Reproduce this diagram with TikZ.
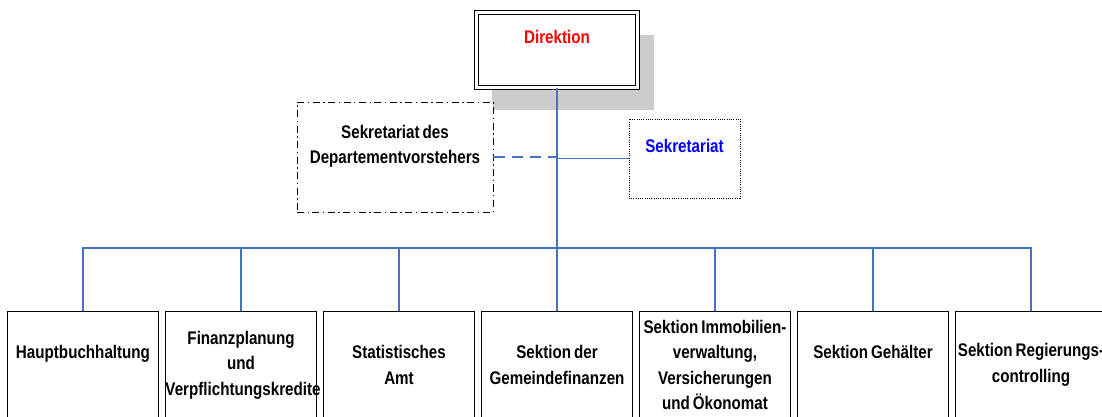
\documentclass[tikz,border=0pt]{standalone}
\usepackage{fontspec}
\setmainfont[FakeStretch=0.83, WordSpace=0.7]{Liberation Sans}
\usepackage{tikz}
\usetikzlibrary{shadows}
\definecolor{orgLine}{RGB}{68,114,196}
\definecolor{orgShade}{RGB}{204,204,204}

\begin{document}
\begin{tikzpicture}[x=0.025cm, y=-0.025cm,
    box/.style={draw, fill=white, line width=0.6pt, align=flush center, inner sep=0pt,
      font=\fontsize{13}{18.1}\selectfont\bfseries},
    headbox/.style={box, double, double distance=2pt, minimum width=4.025cm, minimum height=1.875cm,
      drop shadow={shadow xshift=0.4cm, shadow yshift=-0.55cm, fill=orgShade, opacity=1}},
    dotbox/.style={box, dash pattern=on 0.7pt off 0.9pt},
    dashdotbox/.style={box, dash pattern=on 5pt off 2.5pt on 1pt off 2.5pt},
    unit/.style={box, minimum width=3.775cm, text width=3.775cm, minimum height=2.7cm},
    link/.style={draw=orgLine, line width=1.3pt}
  ]
  \useasboundingbox (0,0) rectangle (1102,416);
  \clip (0,0) rectangle (1102,416);

  % head and staff
  \node[headbox, text=red] (dir) at (557,50) {Direktion\\~};
  \node[dotbox, minimum width=2.775cm, minimum height=1.975cm, text=blue] (sek) at (684.5,158.5) {Sekretariat\\~};
  \node[dashdotbox, minimum width=4.9cm, minimum height=2.75cm] (dep) at (395,157)
    {Sekretariat des\\Departementvorstehers\\~};

  % sections
  \foreach \name [count=\i from 0] in {{Hauptbuchhaltung\\~}, {Finanzplanung\\und\\Verpflichtungskredite},
      {Statistisches\\Amt}, {Sektion der\\Gemeindefinanzen},
      {Sektion Immobilien-\\verwaltung,\\Versicherungen\\und Ökonomat},
      {Sektion Gehälter\\~}, {Sektion Regierungs-\\controlling}}
    \node[unit] (u\i) at (83+158*\i, 365) {\name};

  % connectors
  \coordinate (bus) at (557,248);
  \draw[link, line width=1.8pt] (dir.south) -- (u3.north);
  \draw[link] (u0.north) -- (bus -| u0.north) -- (bus -| u6.north) -- (u6.north);
  \foreach \i in {1,...,5}
    \draw[link] (bus -| u\i.north) -- (u\i.north);
  \draw[link] (sek.west) -- (sek.west -| dir.south);
  \draw[link, dash pattern=on 8pt off 5pt] (dep.east) -- (dep.east -| dir.south);
\end{tikzpicture}
\end{document}
